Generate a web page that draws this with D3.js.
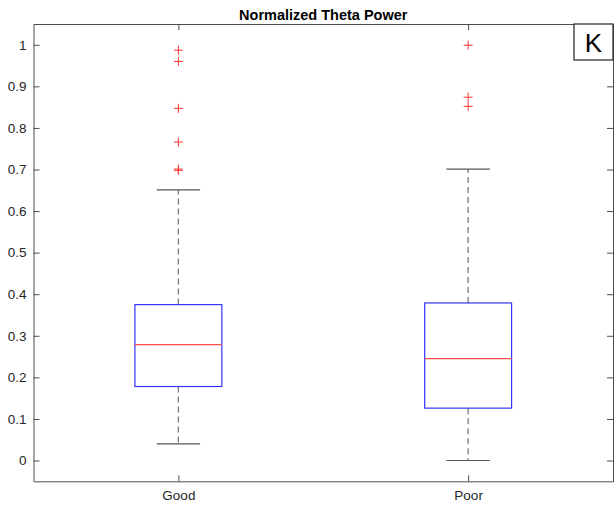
<!DOCTYPE html>
<html>
<head>
<meta charset="utf-8">
<script src="https://cdn.jsdelivr.net/npm/d3@7"></script>
<style>
  html, body { margin: 0; padding: 0; background: #fff; }
  svg { display: block; font-family: "Liberation Sans", Arial, Helvetica, sans-serif; }
</style>
</head>
<body>
<svg id="chart" width="616" height="508"></svg>
<script>
// Box plot summary of normalized theta power per outcome group
const categories = ["Good", "Poor"];
const lowerWhisker = [0.040, 0.000];
const quartile1 = [0.178, 0.126];
const medians = [0.279, 0.245];
const quartile3 = [0.375, 0.379];
const upperWhisker = [0.651, 0.701];
const outliers = [
  [0.987, 0.960, 0.847, 0.766, 0.701, 0.698],
  [0.999, 0.874, 0.852]
];
const yTicks = [0, 0.1, 0.2, 0.3, 0.4, 0.5, 0.6, 0.7, 0.8, 0.9, 1];

const svg = d3.select("#chart");
const plotLeft = 33.5, plotRight = 613, plotTop = 24, plotBottom = 481.3;

const x = d3.scaleLinear().domain([0.5, categories.length + 0.5]).range([plotLeft, plotRight]);
const y = d3.scaleLinear().domain([-0.05, 1.05]).range([plotBottom, plotTop]);

const axisColor = "#4d4d4d";
const textColor = "#262626";

// Axes (ticks point inward, box on all four sides)
const yAxis = d3.axisLeft(y).tickValues(yTicks).tickSizeInner(-6).tickSizeOuter(0).tickPadding(7)
  .tickFormat(d => d3.format("~g")(d));
const yAxisR = d3.axisRight(y).tickValues(yTicks).tickSizeInner(-6).tickSizeOuter(0).tickFormat("");
const xAxis = d3.axisBottom(x).tickValues(categories.map((c, i) => i + 1)).tickSizeInner(-6).tickSizeOuter(0)
  .tickPadding(9).tickFormat((d, i) => categories[i]);
const xAxisT = d3.axisTop(x).tickValues(categories.map((c, i) => i + 1)).tickSizeInner(-6).tickSizeOuter(0).tickFormat("");

function styleAxis(g) {
  g.selectAll(".domain").attr("stroke", axisColor);
  g.selectAll(".tick line").attr("stroke", axisColor);
  g.selectAll(".tick text").attr("fill", textColor).style("font-size", "13.5px");
}
svg.append("g").attr("transform", `translate(${plotLeft},0)`).call(yAxis).call(styleAxis);
svg.append("g").attr("transform", `translate(${plotRight},0)`).call(yAxisR).call(styleAxis);
svg.append("g").attr("transform", `translate(0,${plotBottom})`).call(xAxis).call(styleAxis);
svg.append("g").attr("transform", `translate(0,${plotTop})`).call(xAxisT).call(styleAxis);

// Boxes
const boxHalf = 0.15, capHalf = 0.075;
const g = svg.append("g");
categories.forEach((c, i) => {
  const cx = x(i + 1);
  const bw = x(1 + boxHalf) - x(1);
  const cw = x(1 + capHalf) - x(1);
  // whiskers
  g.append("line").attr("x1", cx).attr("x2", cx).attr("y1", y(quartile3[i])).attr("y2", y(upperWhisker[i]))
    .attr("stroke", "#7a7a7a").attr("stroke-width", 1.3).attr("stroke-dasharray", "6,4");
  g.append("line").attr("x1", cx).attr("x2", cx).attr("y1", y(quartile1[i])).attr("y2", y(lowerWhisker[i]))
    .attr("stroke", "#7a7a7a").attr("stroke-width", 1.3).attr("stroke-dasharray", "6,4");
  // caps
  [upperWhisker[i], lowerWhisker[i]].forEach(v => {
    g.append("line").attr("x1", cx - cw).attr("x2", cx + cw).attr("y1", y(v)).attr("y2", y(v))
      .attr("stroke", "#555").attr("stroke-width", 1.2);
  });
  // box
  g.append("rect").attr("x", cx - bw).attr("width", 2 * bw)
    .attr("y", y(quartile3[i])).attr("height", y(quartile1[i]) - y(quartile3[i]))
    .attr("fill", "none").attr("stroke", "#3333ff").attr("stroke-width", 1.2);
  // median
  g.append("line").attr("x1", cx - bw).attr("x2", cx + bw).attr("y1", y(medians[i])).attr("y2", y(medians[i]))
    .attr("stroke", "#ff4d4d").attr("stroke-width", 1.2);
  // outliers
  outliers[i].forEach(v => {
    const py = y(v);
    g.append("path").attr("d", `M${cx - 4.5},${py}H${cx + 4.5}M${cx},${py - 4.5}V${py + 4.5}`)
      .attr("stroke", "#ff3333").attr("stroke-width", 1);
  });
});

// Title
svg.append("text").attr("x", (plotLeft + plotRight) / 2).attr("y", 20).attr("text-anchor", "middle")
  .style("font-size", "14.5px").style("font-weight", "bold").attr("fill", "#000")
  .text("Normalized Theta Power");

// Panel letter
svg.append("rect").attr("x", 574).attr("y", plotTop).attr("width", plotRight - 574).attr("height", 36)
  .attr("fill", "#fff").attr("stroke", "#333").attr("stroke-width", 1.3);
svg.append("text").attr("x", (574 + plotRight) / 2).attr("y", 52).attr("text-anchor", "middle")
  .style("font-size", "26px").attr("fill", "#000").text("K");
</script>
</body>
</html>
